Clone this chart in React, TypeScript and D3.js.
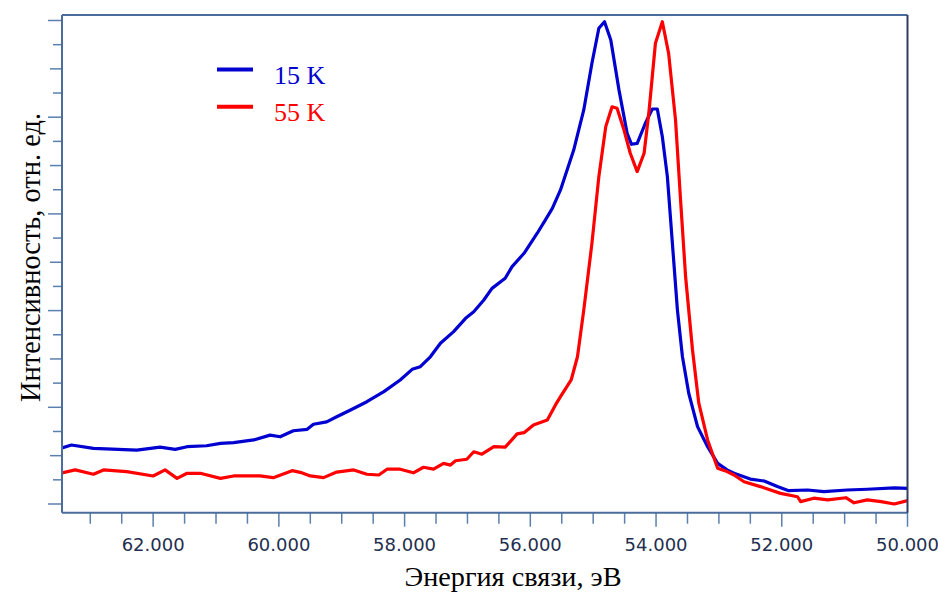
// App.tsx
// Photoemission spectra (15 K vs 55 K), drawn with D3
import React, { useEffect, useRef } from "react";
import * as d3 from "d3";

// binding energy, eV
const energy15 = [
  63.45, 63.3, 62.95, 62.26, 61.89, 61.65, 61.46, 61.15, 60.93, 60.72, 60.4, 60.14, 59.98, 59.77,
  59.55, 59.45, 59.24, 59.08, 58.86, 58.6, 58.33, 58.07, 57.88, 57.75, 57.59, 57.43, 57.22, 57.03,
  56.9, 56.74, 56.61, 56.4, 56.29, 56.1, 55.89, 55.76, 55.65, 55.52, 55.31, 55.15, 55.02, 54.91,
  54.82, 54.72, 54.59, 54.46, 54.39, 54.3, 54.17, 54.06, 53.98, 53.9, 53.82, 53.74, 53.66, 53.58,
  53.48, 53.34, 53.18, 53.02, 52.87, 52.76, 52.5, 52.28, 52.07, 51.89, 51.59, 51.33, 50.96, 50.64,
  50.21, 50.0,
];
const intensity15 = [
  2.32, 2.44, 2.3, 2.23, 2.35, 2.26, 2.37, 2.41, 2.51, 2.54, 2.65, 2.85, 2.78, 3.03,
  3.09, 3.3, 3.4, 3.61, 3.89, 4.23, 4.65, 5.13, 5.57, 5.68, 6.09, 6.65, 7.13, 7.68,
  7.95, 8.44, 8.92, 9.34, 9.82, 10.37, 11.2, 11.75, 12.23, 12.99, 14.64, 16.3, 18.23, 19.68,
  19.95, 19.19, 17.13, 15.33, 14.88, 14.92, 15.75, 16.34, 16.34, 15.19, 13.54, 10.78, 8.02, 6.09,
  4.58, 3.2, 2.37, 1.68, 1.41, 1.27, 1.03, 0.95, 0.72, 0.55, 0.58, 0.51, 0.58, 0.61,
  0.67, 0.65,
];

const energy55 = [
  63.45, 63.24, 62.95, 62.79, 62.42, 62.0, 61.81, 61.62, 61.46, 61.25, 60.93, 60.72, 60.3, 60.09,
  59.79, 59.66, 59.5, 59.29, 59.08, 58.81, 58.6, 58.41, 58.28, 58.07, 57.86, 57.7, 57.54, 57.38,
  57.27, 57.19, 57.01, 56.9, 56.77, 56.58, 56.4, 56.21, 56.1, 55.95, 55.73, 55.6, 55.52, 55.35,
  55.25, 55.15, 55.02, 54.91, 54.8, 54.7, 54.62, 54.51, 54.41, 54.3, 54.19, 54.11,
  54.01, 53.9, 53.8, 53.69, 53.61, 53.53, 53.42, 53.32, 53.18, 53.02, 52.87, 52.76, 52.6, 52.34,
  52.02, 51.75, 51.7, 51.49, 51.27, 50.98, 50.85, 50.64, 50.42, 50.21, 50.0,
];
const intensity55 = [
  1.29, 1.41, 1.23, 1.41, 1.34, 1.16, 1.41, 1.06, 1.27, 1.27, 1.06, 1.16, 1.16, 1.09,
  1.38, 1.31, 1.16, 1.09, 1.32, 1.41, 1.23, 1.2, 1.44, 1.44, 1.29, 1.52, 1.44, 1.68,
  1.61, 1.79, 1.85, 2.16, 2.06, 2.37, 2.35, 2.9, 2.95, 3.27, 3.47, 4.1, 4.44, 5.13,
  6.09, 8.02, 10.78, 13.54, 15.61, 16.43, 16.37, 15.47, 14.51, 13.75, 14.51, 16.3,
  19.06, 19.95, 18.64, 15.88, 12.57, 9.4, 6.37, 4.17, 2.65, 1.48, 1.34, 1.2, 0.92, 0.72,
  0.44, 0.3, 0.1, 0.24, 0.17, 0.26, 0.05, 0.17, 0.1, 0.0, 0.14,
];

const seriesNames = ["15 K", "55 K"];
const seriesColors = ["#0000d0", "#ff0000"];
const xDomain: [number, number] = [63.45, 50.0];
const xMajorTicks = [62, 60, 58, 56, 54, 52, 50];
const yDomain: [number, number] = [0, 20];
const xTitle = "Энергия связи, эВ";
const yTitle = "Интенсивность, отн. ед.";

interface Pt {
  e: number;
  v: number;
}

export default function App() {
  const svgRef = useRef<SVGSVGElement>(null);

  useEffect(() => {
    if (!svgRef.current) return;
    const width = 938, height = 592;
    const left = 62, right = 907.5, top = 15, bottom = 512.7;
    const svg = d3.select(svgRef.current);
    svg.selectAll("*").remove();

    const x = d3.scaleLinear().domain(xDomain).range([left, right]);
    const y = d3.scaleLinear().domain(yDomain).range([504, 20.5]);

    svg.attr("width", width).attr("height", height);

    // clip
    svg.append("defs").append("clipPath").attr("id", "plot-clip")
      .append("rect")
      .attr("x", left).attr("y", top)
      .attr("width", right - left).attr("height", bottom - top);

    // x axis ticks (majors every 2 eV, minors every 0.5 eV)
    const axisCol = "#5b7fae";
    const minor = d3.range(50, 63.45, 0.5).filter((t) => !xMajorTicks.includes(t));
    const gx = svg.append("g");
    gx.selectAll("line.minor")
      .data(minor)
      .enter()
      .append("line")
      .attr("x1", (d) => x(d)).attr("x2", (d) => x(d))
      .attr("y1", bottom).attr("y2", bottom + 11)
      .attr("stroke", axisCol).attr("stroke-width", 1.5);
    gx.selectAll("line.major")
      .data(xMajorTicks)
      .enter()
      .append("line")
      .attr("x1", (d) => x(d)).attr("x2", (d) => x(d))
      .attr("y1", bottom).attr("y2", bottom + 14)
      .attr("stroke", axisCol).attr("stroke-width", 1.5);
    gx.selectAll("text")
      .data(xMajorTicks)
      .enter()
      .append("text")
      .attr("x", (d) => x(d))
      .attr("y", 550.5)
      .attr("text-anchor", "middle")
      .attr("font-family", "'DejaVu Sans', Verdana, sans-serif")
      .attr("font-size", 18)
      .attr("fill", "#1f2f4f")
      .text((d) => d3.format(".3f")(d));

    // y axis ticks, no labels
    const yt = d3.range(0, 21, 1);
    svg.append("g").selectAll("line")
      .data(yt)
      .enter()
      .append("line")
      .attr("x1", (d) => left - (d % 4 === 0 ? 14 : d % 2 === 0 ? 12 : 9))
      .attr("x2", left)
      .attr("y1", (d) => y(d)).attr("y2", (d) => y(d))
      .attr("stroke", axisCol).attr("stroke-width", 1.5);

    // curves
    const line = d3.line<Pt>()
      .x((d) => x(d.e))
      .y((d) => y(d.v));
    const series: Pt[][] = [
      energy15.map((e, i) => ({ e, v: intensity15[i] })),
      energy55.map((e, i) => ({ e, v: intensity55[i] })),
    ];
    const gl = svg.append("g").attr("clip-path", "url(#plot-clip)");
    [0, 1].forEach((k) => {
      gl.append("path")
        .datum(series[k])
        .attr("fill", "none")
        .attr("stroke", seriesColors[k])
        .attr("stroke-width", 3.2)
        .attr("stroke-linejoin", "round")
        .attr("d", line);
    });

    // frame
    svg.append("line").attr("x1", left).attr("x2", right).attr("y1", top).attr("y2", top)
      .attr("stroke", "#4a6d9c").attr("stroke-width", 2);
    svg.append("line").attr("x1", left).attr("x2", left).attr("y1", top).attr("y2", bottom)
      .attr("stroke", "#4a6d9c").attr("stroke-width", 2);
    svg.append("line").attr("x1", left).attr("x2", right).attr("y1", bottom).attr("y2", bottom)
      .attr("stroke", "#4a6d9c").attr("stroke-width", 2);
    svg.append("line").attr("x1", right).attr("x2", right).attr("y1", top).attr("y2", bottom)
      .attr("stroke", "#2e3f62").attr("stroke-width", 2);

    // legend
    const lg = svg.append("g");
    seriesNames.forEach((name, i) => {
      const ly = 69.5 + i * 37.3;
      lg.append("line")
        .attr("x1", 217).attr("x2", 253)
        .attr("y1", ly).attr("y2", ly)
        .attr("stroke", seriesColors[i]).attr("stroke-width", 4);
      lg.append("text")
        .attr("x", 274).attr("y", ly + 14)
        .attr("font-family", "'Liberation Serif', 'Times New Roman', serif")
        .attr("font-size", 26)
        .attr("fill", seriesColors[i])
        .text(name);
    });

    // axis titles
    svg.append("text")
      .attr("x", 513).attr("y", 585.5)
      .attr("text-anchor", "middle")
      .attr("font-family", "'Liberation Serif', 'Times New Roman', serif")
      .attr("font-size", 28)
      .attr("textLength", 217)
      .attr("lengthAdjust", "spacingAndGlyphs")
      .attr("fill", "#000")
      .text(xTitle);
    svg.append("text")
      .attr("transform", "translate(40,257.5) rotate(-90)")
      .attr("text-anchor", "middle")
      .attr("font-family", "'Liberation Serif', 'Times New Roman', serif")
      .attr("font-size", 29)
      .attr("textLength", 289)
      .attr("lengthAdjust", "spacingAndGlyphs")
      .attr("fill", "#000")
      .text(yTitle);
  }, []);

  return (
    <div style={{ position: "absolute", left: 0, top: 0, background: "#fff" }}>
      <svg ref={svgRef} width={938} height={592} style={{ display: "block" }} />
    </div>
  );
}
